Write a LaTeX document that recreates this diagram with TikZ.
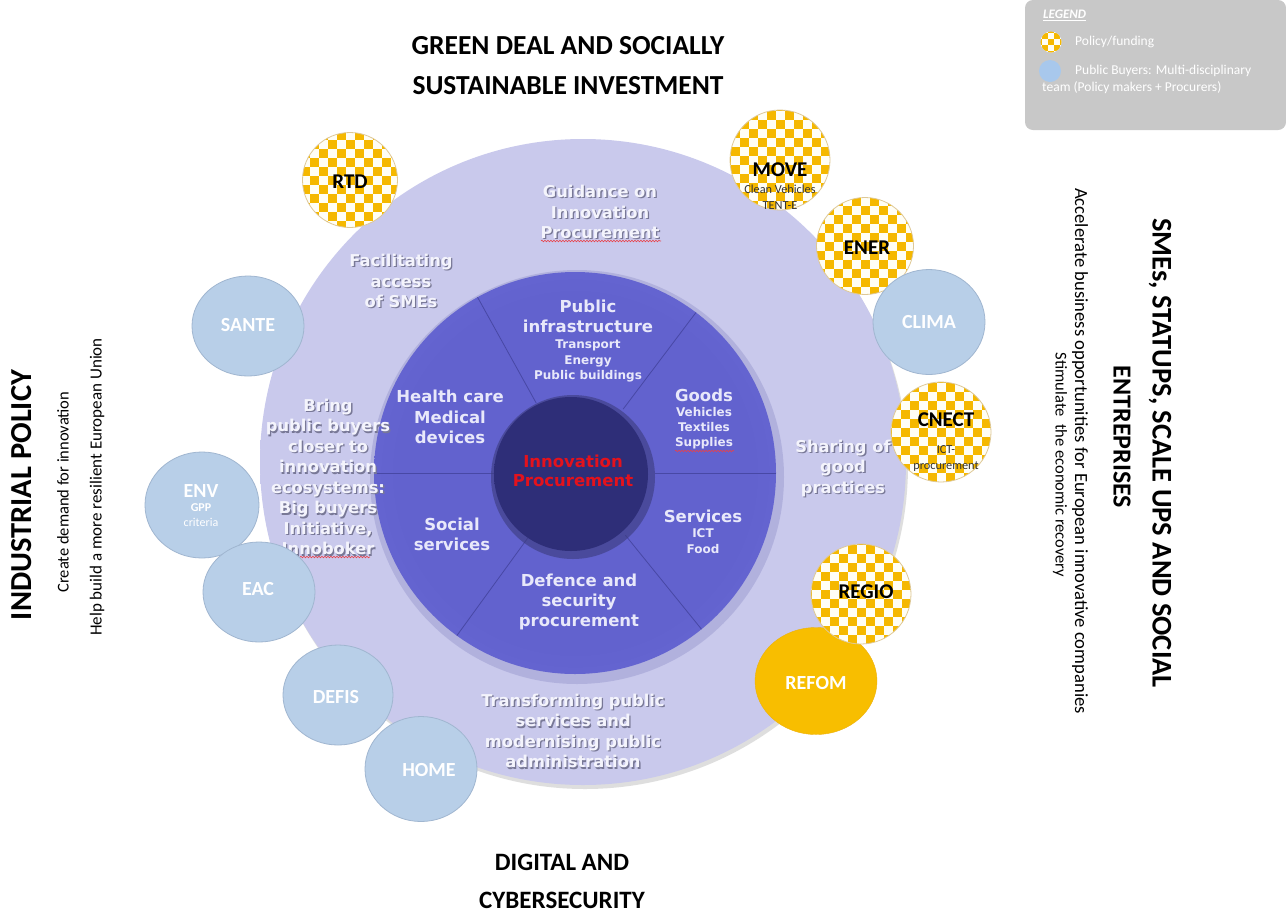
\documentclass[tikz,border=0pt]{standalone}
\usepackage{fontspec}
\setmainfont{Carlito}
\newfontfamily\vfont{DejaVu Sans}
\usetikzlibrary{calc,shapes.geometric,decorations.pathmorphing}

\definecolor{chkY}{RGB}{245,184,0}
\definecolor{chkB}{RGB}{222,200,150}
\definecolor{lblue}{RGB}{184,207,232}
\definecolor{lblueb}{RGB}{160,182,208}
\definecolor{lavin}{RGB}{201,201,236}
\definecolor{lavout}{RGB}{216,216,243}
\definecolor{midhalo}{RGB}{168,168,216}
\definecolor{midin}{RGB}{98,98,206}
\definecolor{midout}{RGB}{112,112,220}
\definecolor{innin}{RGB}{46,46,120}
\definecolor{innout}{RGB}{30,30,92}
\definecolor{secline}{RGB}{72,72,165}
\definecolor{ringtext}{RGB}{244,244,252}
\definecolor{ringshadow}{RGB}{120,120,150}
\definecolor{sectext}{RGB}{232,232,250}
\definecolor{ipred}{RGB}{228,18,28}
\definecolor{refom}{RGB}{248,190,0}
\definecolor{leggray}{RGB}{200,200,200}
\definecolor{legblue}{RGB}{168,200,236}

\pgfdeclareradialshading{bigring}{\pgfpoint{0bp}{0bp}}{color(0bp)=(lavin); color(30bp)=(lavin); color(50bp)=(lavout)}
\pgfdeclareradialshading{middisc}{\pgfpoint{0bp}{0bp}}{color(0bp)=(midin); color(22bp)=(midin); color(42bp)=(midout); color(50bp)=(midout)}
\pgfdeclareradialshading{inndisc}{\pgfpoint{0bp}{0bp}}{color(0bp)=(innin); color(35bp)=(innin); color(50bp)=(innout)}

\tikzset{
  ringtxt/.style={font=\vfont\bfseries\fontsize{16.3}{20.5}\selectfont, text=ringtext, align=center, inner sep=0},
  ringsh/.style={ringtxt, text=ringshadow},
  sectxt/.style={font=\vfont\bfseries\fontsize{16.5}{20.3}\selectfont, text=sectext, align=center, inner sep=0},
  subtxt/.style={font=\vfont\bfseries\fontsize{12}{15.3}\selectfont, text=sectext, align=center, inner sep=0},
  checkdisk/.style 2 args={circle, minimum size=#1, inner sep=0, draw=chkB, line width=0.8,
    path picture={
      \fill[white!96!yellow] (path picture bounding box.south west) rectangle (path picture bounding box.north east);
      \foreach \i in {-7,...,7}{\foreach \j in {-7,...,7}{%
        \pgfmathtruncatemacro\kk{mod(\i+\j+20,2)}%
        \ifnum\kk=0 \fill[chkY] ($(path picture bounding box.center)+(\i*#2-#2/2,\j*#2-#2/2)$) rectangle ++(#2,#2);\fi}}
    }},
  bluedisk/.style 2 args={ellipse, minimum width=#1, minimum height=#2, inner sep=0, fill=lblue, draw=lblueb, line width=0.8},
  satblack/.style={font=\bfseries\fontsize{21}{22}\selectfont, text=black, align=center, inner sep=0},
  satwhite/.style={font=\bfseries\fontsize{20}{22}\selectfont, text=white, align=center, inner sep=0},
  satsmall/.style={font=\fontsize{12.3}{16}\selectfont, text=black!80, align=center, inner sep=0},
  satsmallw/.style={font=\fontsize{12}{15}\selectfont, text=white, align=center, inner sep=0},
  bigtitle/.style={font=\bfseries\fontsize{27.5}{40}\selectfont, text=black, align=center, inner sep=0},
  sidetxt/.style={font=\fontsize{17}{18}\selectfont, text=black, inner sep=0},
  legtxt/.style={font=\fontsize{13.5}{15}\selectfont, text=white, inner sep=0, anchor=west},
  squiggle/.style={draw=ipred!80, line width=0.6, decorate, decoration={snake, amplitude=0.8, segment length=3}},
  secline/.style={draw=secline, line width=0.8}
}

\newcommand\ringtext[3]{%
  \node[ringsh] at ($(#2)+(1.3,1.3)$) {#3};
  \node[ringtxt] (#1) at (#2) {#3};
}

\begin{document}
\begin{tikzpicture}[x=1pt,y=-1pt]
\useasboundingbox (0,0) rectangle (1286,914);
\fill[white] (0,0) rectangle (1286,914);

% ---- big ring
\coordinate (bigc) at (583,462);
\fill[black!25, opacity=0.5] ($(bigc)+(2,4)$) circle[radius=323];
\shade[shading=bigring] (bigc) circle[radius=323];

% ---- middle disc
\coordinate (midc) at (575,473);
\fill[midhalo, opacity=0.7] ($(midc)+(2,4)$) circle[radius=207];
\shade[shading=middisc] (midc) circle[radius=201];

\foreach \a in {0,-53,-119,180,126,51}{
  \draw[secline] ($(midc)+(\a:80)$) -- ($(midc)+(\a:201)$);
}

% ---- inner disc
\coordinate (innc) at (571,474);
\fill[black!40!midin, opacity=0.6] ($(innc)+(2,3)$) circle[radius=82];
\shade[shading=inndisc] (innc) circle[radius=77];
\node[font=\vfont\bfseries\fontsize{16.5}{19.5}\selectfont, text=ipred, align=center, inner sep=0] (ip) at (573,471) {Innovation\\Procurement};

% ---- ring texts
\ringtext{guid}{600,212}{Guidance on\\Innovation\\Procurement}
\ringtext{facil}{401,281}{Facilitating\\access\\of SMEs}
\ringtext{bring}{328,477}{Bring\\public buyers\\closer to\\innovation\\ecosystems:\\Big buyers\\Initiative,\\Innoboker}
\ringtext{share}{843,468}{Sharing of\\good\\practices}
\ringtext{trans}{573,731}{Transforming public\\services and\\modernising public\\administration}

% ---- sector texts
\node[sectxt] (pub) at (588,316) {Public\\infrastructure};
\node[subtxt] (pubs) at (588,361) {Transport\\Energy\\Public buildings};
\node[sectxt] (health) at (450,417) {Health care\\Medical\\devices};
\node[sectxt] (goods) at (704,395) {Goods};
\node[subtxt] (goodss) at (704,428) {Vehicles\\Textiles\\Supplies};
\node[sectxt] (social) at (452,534) {Social\\services};
\node[sectxt] (serv) at (703,516) {Services};
\node[subtxt] (servs) at (703,541) {ICT\\Food};
\node[sectxt] (def) at (579,602) {Defence and\\security\\procurement};

% spell-check squiggles
\draw[squiggle] (675,451) -- (734,451);
\draw[squiggle] (288,557) -- (370,557);
\draw[squiggle] (541,241) -- (661,241);

% ---- satellites
\node[checkdisk={95}{9}] (rtd) at (350,180) {};
\node[satblack] (rtdl) at (350,182) {RTD};

\node[checkdisk={100}{9}] (move) at (780,160) {};
\node[satblack] (movel) at (780,170) {MOVE};
\node[satsmall] (moves) at (780,197) {Clean Vehicles\\TENT-E};

\node[checkdisk={97}{9}] (ener) at (865,246) {};
\node[satblack] (enerl) at (867,248) {ENER};

\node[bluedisk={112}{105}] (clima) at (929,322) {};
\node[satwhite] (climal) at (929,322) {CLIMA};

\node[checkdisk={100}{9}] (cnect) at (941,432) {};
\node[satblack] (cnectl) at (946,420) {CNECT};
\node[satsmall] (cnects) at (946,458) {ICT-\\procurement};

\node[ellipse, minimum width=122, minimum height=107, inner sep=0, fill=refom, draw=refom!80!brown] (refom) at (816,681) {};
\node[satwhite] (refoml) at (816,683) {REFOM};

\node[checkdisk={100}{9}] (regio) at (861,594) {};
\node[satblack] (regiol) at (866,592) {REGIO};

\node[bluedisk={112}{100}] (sante) at (248,326) {};
\node[satwhite] (santel) at (248,325) {SANTE};

\node[bluedisk={114}{106}] (env) at (202,505) {};
\node[satwhite] (envl) at (201,491) {ENV};
\node[satsmallw] (envs) at (201,515) {\textbf{GPP}\\criteria};

\node[bluedisk={112}{100}] (eac) at (259,592) {};
\node[satwhite] (eacl) at (258,589) {EAC};

\node[bluedisk={110}{100}] (defis) at (338,695) {};
\node[satwhite] (defisl) at (336,697) {DEFIS};

\node[bluedisk={112}{105}] (home) at (421,769) {};
\node[satwhite] (homel) at (429,770) {HOME};

% ---- outer titles
\node[bigtitle] (green) at (568,66) {GREEN DEAL AND SOCIALLY\\SUSTAINABLE INVESTMENT};
\node[bigtitle, font=\bfseries\fontsize{25}{38}\selectfont] (digital) at (562,881) {DIGITAL AND\\CYBERSECURITY};
\node[bigtitle, rotate=90, font=\bfseries\fontsize{30.5}{32}\selectfont] (indus) at (22,495) {INDUSTRIAL POLICY};
\node[sidetxt, rotate=90, font=\fontsize{16.5}{18}\selectfont] (create) at (63,492) {Create demand for innovation};
\node[sidetxt, rotate=90] (help) at (97,487) {Help build a more resilient European Union};
\node[bigtitle, rotate=-90, font=\bfseries\fontsize{28.5}{30}\selectfont] (smes) at (1160,453) {SMEs, STATUPS, SCALE UPS AND SOCIAL};
\node[bigtitle, rotate=-90, font=\bfseries\fontsize{26}{30}\selectfont] (entre) at (1122,437) {ENTREPRISES};
\node[sidetxt, rotate=-90, font=\fontsize{18.6}{19}\selectfont] (accel) at (1080,451) {Accelerate business opportunities for European innovative companies};
\node[sidetxt, rotate=-90, font=\fontsize{16.5}{18}\selectfont] (stim) at (1060,465) {Stimulate\ \ the economic recovery};

% ---- legend
\fill[leggray, rounded corners=8] (1025,0) -- (1286,0) -- (1286,130) -- (1025,130) -- cycle;
\node[font=\bfseries\itshape\fontsize{13}{14}\selectfont, text=white, inner sep=0, anchor=west] (legh) at (1043,15) {\underline{LEGEND}};
\node[checkdisk={21}{6}, draw=none] (legc) at (1051,42) {};
\node[legtxt] (legct) at (1075,42) {Policy/funding};
\node[circle, minimum size=22, inner sep=0, fill=legblue] (legb) at (1050,71) {};
\node[legtxt] (legbt) at (1075,71) {Public Buyers: Multi-disciplinary};
\node[legtxt] (legbt2) at (1042,88) {team (Policy makers + Procurers)};
\end{tikzpicture}
\end{document}
